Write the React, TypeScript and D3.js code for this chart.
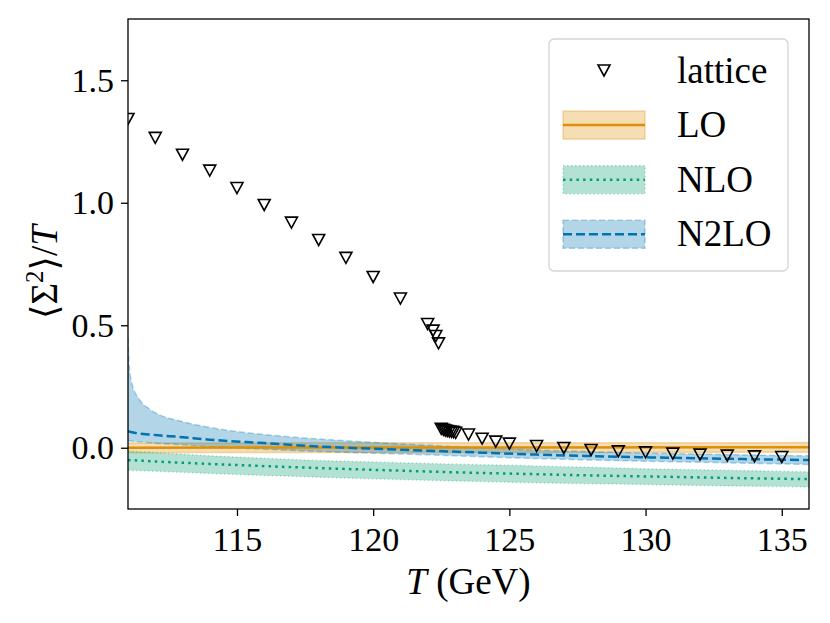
import React, { useEffect, useRef } from 'react';
import * as d3 from 'd3';

// lattice data (T in GeV, <Sigma^2>/T)
const latticeT = [111, 112, 113, 114, 115, 116, 117, 118, 119, 120, 121, 122.0, 122.2, 122.3, 122.4,
  122.5, 122.58, 122.65, 122.72, 122.8, 122.88, 122.95, 123.03, 123.5, 124, 124.5, 125,
  126, 127, 128, 129, 130, 131, 132, 133, 134, 135];
const latticeV = [1.342, 1.265, 1.196, 1.131, 1.06, 0.991, 0.919, 0.848, 0.775, 0.697, 0.609, 0.505, 0.478, 0.456, 0.426,
  0.077, 0.073, 0.07, 0.068, 0.066, 0.065, 0.064, 0.061, 0.054, 0.037, 0.025, 0.017,
  0.007, -0.001, -0.009, -0.015, -0.019, -0.024, -0.028, -0.032, -0.035, -0.038];

// LO
const loT = [111, 118, 125, 136];
const loMid = [0.0, 0.001, 0.001, 0.002];
const loLow = [-0.02, -0.019, -0.019, -0.018];
const loHigh = [0.019, 0.02, 0.02, 0.021];

// NLO
const nloT = [111, 112, 114, 116, 118, 120, 122, 124, 126, 128, 130, 132, 134, 136];
const nloMid = [-0.05, -0.056, -0.066, -0.075, -0.083, -0.09, -0.097, -0.103, -0.108, -0.113, -0.117, -0.121, -0.125, -0.128];
const nloLow = [-0.092, -0.096, -0.105, -0.113, -0.12, -0.127, -0.133, -0.138, -0.143, -0.147, -0.15, -0.154, -0.157, -0.16];
const nloHigh = [-0.014, -0.02, -0.033, -0.043, -0.052, -0.058, -0.064, -0.069, -0.074, -0.08, -0.086, -0.09, -0.094, -0.098];

// N2LO
const n2loT = [111, 111.05, 111.15, 111.4, 111.8, 112.2, 112.8, 114, 116, 118, 120, 122, 124, 126, 128, 130, 132, 134, 136];
const n2loMid = [0.068, 0.066, 0.063, 0.058, 0.054, 0.05, 0.045, 0.033, 0.019, 0.005, -0.004, -0.012, -0.02, -0.028, -0.034, -0.039, -0.043, -0.047, -0.05];
const n2loLow = [0.03, 0.029, 0.027, 0.024, 0.02, 0.017, 0.013, 0.004, -0.006, -0.015, -0.022, -0.029, -0.037, -0.044, -0.05, -0.055, -0.059, -0.064, -0.068];
const n2loHigh = [0.45, 0.33, 0.26, 0.2, 0.157, 0.132, 0.112, 0.083, 0.054, 0.036, 0.022, 0.01, 0.0, -0.009, -0.016, -0.022, -0.026, -0.03, -0.033];

const xTicks = [115, 120, 125, 130, 135];
const yTicks = [0.0, 0.5, 1.0, 1.5];

const ORANGE = '#DE8F05';
const GREEN = '#029E73';
const BLUE = '#0173B2';
const FONT = '"Liberation Serif", "DejaVu Serif", serif';

const App: React.FC = () => {
  const svgRef = useRef<SVGSVGElement>(null);

  useEffect(() => {
    document.body.style.margin = '0';
    const margin = { top: 19, right: 21, bottom: 114, left: 128 };
    const W = 830, H = 623;
    const width = W - margin.left - margin.right;
    const height = H - margin.top - margin.bottom;

    const root = d3.select(svgRef.current).attr('width', W).attr('height', H);
    root.selectAll('*').remove();
    const svg = root.append('g').attr('transform', `translate(${margin.left},${margin.top})`);

    const x = d3.scaleLinear().domain([111, 136]).range([0, width]);
    const y = d3.scaleLinear().domain([-0.25, 1.75]).range([height, 0]);

    svg.append('clipPath').attr('id', 'plotclip')
      .append('rect').attr('width', width).attr('height', height);

    const plot = svg.append('g').attr('clip-path', 'url(#plotclip)');

    const series = [
      { T: loT, mid: loMid, low: loLow, high: loHigh, color: ORANGE, dash: null as string | null },
      { T: nloT, mid: nloMid, low: nloLow, high: nloHigh, color: GREEN, dash: '2.5,4.2' },
      { T: n2loT, mid: n2loMid, low: n2loLow, high: n2loHigh, color: BLUE, dash: '9,4' },
    ];

    const edgeDash = (d: string | null) => d === null ? null : d === '9,4' ? '6,3' : '1.5,2.5';

    series.forEach(s => {
      const idx = d3.range(s.T.length);
      const area = d3.area<number>()
        .x(i => x(s.T[i]))
        .y0(i => y(s.low[i]))
        .y1(i => y(s.high[i]))
        .curve(d3.curveMonotoneX);
      plot.append('path').attr('d', area(idx)).attr('fill', s.color).attr('fill-opacity', 0.3);
      [s.low, s.high].forEach(arr => {
        const edge = d3.line<number>().x(i => x(s.T[i])).y(i => y(arr[i])).curve(d3.curveMonotoneX);
        plot.append('path').attr('d', edge(idx)).attr('fill', 'none')
          .attr('stroke', s.color).attr('stroke-opacity', 0.3).attr('stroke-width', 1.5)
          .attr('stroke-dasharray', edgeDash(s.dash));
      });
    });

    series.forEach(s => {
      const idx = d3.range(s.T.length);
      const line = d3.line<number>().x(i => x(s.T[i])).y(i => y(s.mid[i])).curve(d3.curveMonotoneX);
      plot.append('path').attr('d', line(idx)).attr('fill', 'none')
        .attr('stroke', s.color).attr('stroke-width', 2.5)
        .attr('stroke-dasharray', s.dash);
    });

    const tri = 'M-6,-5.5L6,-5.5L0,5.5Z';
    plot.selectAll('.lat').data(d3.range(latticeT.length)).enter()
      .append('path').attr('class', 'lat')
      .attr('d', tri)
      .attr('transform', i => `translate(${x(latticeT[i])},${y(latticeV[i])})`)
      .attr('fill', 'none').attr('stroke', '#000').attr('stroke-width', 1.6)
      .attr('stroke-linejoin', 'miter');

    // axes
    const xAxis = svg.append('g').attr('transform', `translate(0,${height})`)
      .call(d3.axisBottom(x).tickValues(xTicks).tickSize(7).tickPadding(11).tickFormat(d3.format('d')));
    const yAxis = svg.append('g')
      .call(d3.axisLeft(y).tickValues(yTicks).tickSize(7).tickPadding(7).tickFormat(d3.format('.1f')));
    [xAxis, yAxis].forEach(a => {
      a.select('.domain').remove();
      a.selectAll('line').attr('stroke', '#000').attr('stroke-width', 1.3);
      a.selectAll('text').attr('font-family', FONT).attr('font-size', 34).attr('fill', '#000');
    });

    svg.append('rect').attr('width', width).attr('height', height)
      .attr('fill', 'none').attr('stroke', '#000').attr('stroke-width', 1.3);

    // legend
    const lg = svg.append('g').attr('transform', `translate(${549 - margin.left},${39 - margin.top})`);
    lg.append('rect').attr('width', 239).attr('height', 232).attr('rx', 5)
      .attr('fill', '#fff').attr('fill-opacity', 0.8).attr('stroke', '#d5d5d5').attr('stroke-width', 1.3);
    const rows = [
      { label: 'lattice', s: null as any },
      { label: 'LO', s: series[0] },
      { label: 'NLO', s: series[1] },
      { label: 'N2LO', s: series[2] },
    ];
    rows.forEach((r, k) => {
      const cy = 31.5 + k * 54.6;
      const g = lg.append('g').attr('transform', `translate(0,${cy})`);
      if (!r.s) {
        g.append('path').attr('d', tri).attr('transform', 'translate(55,0)')
          .attr('fill', 'none').attr('stroke', '#000').attr('stroke-width', 1.6);
      } else {
        g.append('rect').attr('x', 14).attr('y', -14).attr('width', 82).attr('height', 28)
          .attr('fill', r.s.color).attr('fill-opacity', 0.3)
          .attr('stroke', r.s.color).attr('stroke-opacity', 0.3).attr('stroke-width', 1.5)
          .attr('stroke-dasharray', edgeDash(r.s.dash));
        g.append('line').attr('x1', 14).attr('x2', 96)
          .attr('stroke', r.s.color).attr('stroke-width', 2.5).attr('stroke-dasharray', r.s.dash);
      }
      g.append('text').attr('x', 128).attr('y', 12).text(r.label)
        .attr('font-family', FONT).attr('font-size', 37).attr('fill', '#000');
    });

    // axis labels
    const xl = svg.append('text').attr('x', width / 2).attr('y', 594 - margin.top)
      .attr('text-anchor', 'middle').attr('font-family', FONT).attr('font-size', 37).attr('fill', '#000');
    xl.append('tspan').attr('font-style', 'italic').text('T');
    xl.append('tspan').text(' (GeV)');

    const yl = svg.append('text')
      .attr('transform', `translate(${57 - margin.left},${272 - margin.top}) rotate(-90)`)
      .attr('text-anchor', 'middle').attr('font-family', FONT).attr('font-size', 37).attr('fill', '#000');
    yl.append('tspan').text('⟨Σ');
    yl.append('tspan').attr('font-size', 25).attr('dy', -14).text('2');
    yl.append('tspan').attr('dy', 14).text('⟩/');
    yl.append('tspan').attr('font-style', 'italic').text('T');
  }, []);

  return <svg ref={svgRef} style={{ display: 'block' }}></svg>;
};

export default App;
